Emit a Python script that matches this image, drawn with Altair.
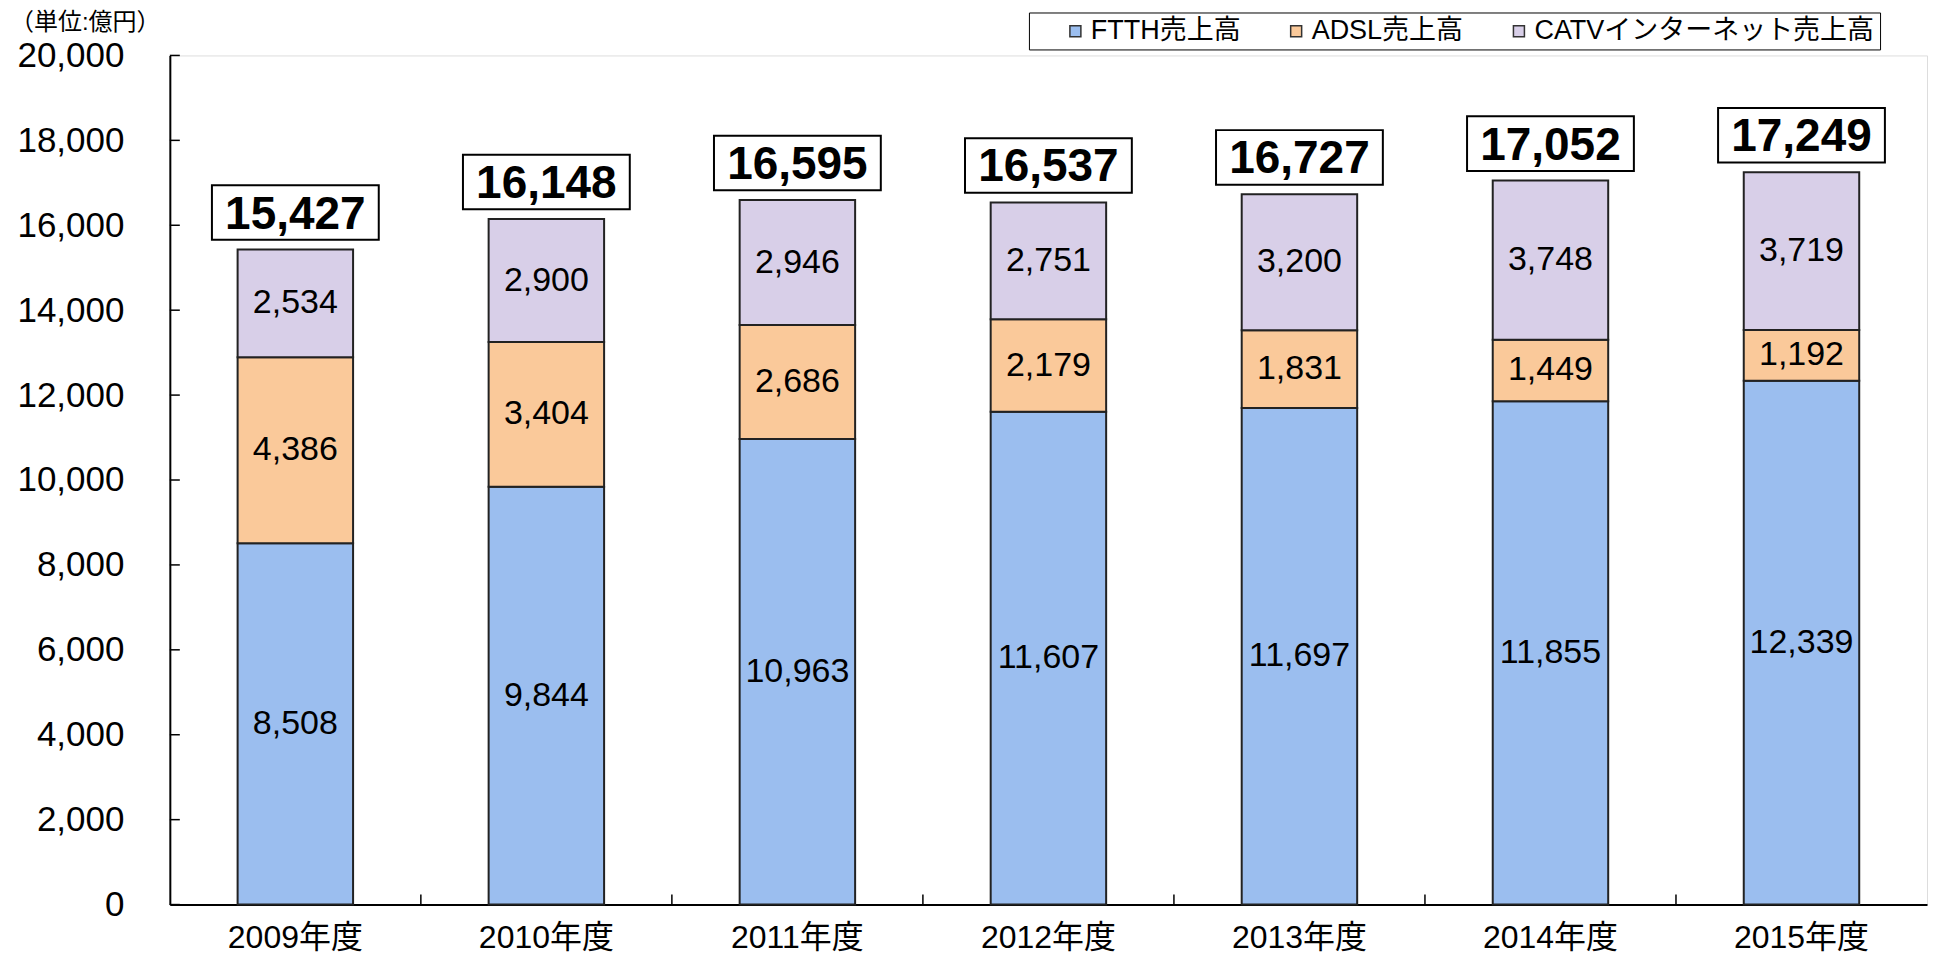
import altair as alt
import pandas as pd

years = ["2009年度", "2010年度", "2011年度", "2012年度", "2013年度", "2014年度", "2015年度"]
series = ["FTTH売上高", "ADSL売上高", "CATVインターネット売上高"]
ftth = [8508, 9844, 10963, 11607, 11697, 11855, 12339]
adsl = [4386, 3404, 2686, 2179, 1831, 1449, 1192]
catv = [2534, 2900, 2946, 2751, 3200, 3748, 3719]
totals = [15427, 16148, 16595, 16537, 16727, 17052, 17249]
y_ticks = [0, 2000, 4000, 6000, 8000, 10000, 12000, 14000, 16000, 18000, 20000]
colors = ["#9BBEEF", "#FAC99A", "#D8CFE8"]
unit_label = ["（単位:億円）"]

FONT = "Liberation Sans, 'Noto Sans CJK JP', sans-serif"
W, H = 1759, 850

rows = []
for i, y in enumerate(years):
    for k, (name, vals) in enumerate(zip(series, [ftth, adsl, catv])):
        rows.append({"year": y, "series": name, "value": vals[i], "order": k})
df = pd.DataFrame(rows)
tot_df = pd.DataFrame({"year": years, "total": totals,
                       "top": [a + b + c for a, b, c in zip(ftth, adsl, catv)]})
ytick_df = pd.DataFrame({"t": y_ticks})
xtick_df = pd.DataFrame({"year": years[1:]})
unit_df = pd.DataFrame({"label": unit_label})

xscale = alt.Scale(domain=years, paddingInner=0, paddingOuter=0)
yscale = alt.Scale(domain=[0, 20000], nice=False)

xaxis = alt.Axis(title=None, ticks=False, labelFontSize=32, labelPadding=18,
                 labelColor="black", domainColor="black", domainWidth=2,
                 labelAngle=0, labelFont=FONT)
yaxis = alt.Axis(title=None, values=y_ticks, format=",d", ticks=False,
                 labelFontSize=35, labelPadding=46, labelColor="black",
                 domainColor="black", domainWidth=2, grid=False, labelFont=FONT)


def X(**kw):
    return alt.X("year:N", scale=xscale, sort=years, axis=xaxis, **kw)


def Y(field):
    return alt.Y(field, scale=yscale, axis=yaxis)


base = alt.Chart(df).transform_stack(
    stack="value", groupby=["year"], sort=[alt.SortField("order")], as_=["v0", "v1"]
).transform_calculate(mid="(datum.v0 + datum.v1) / 2")

bars = base.mark_bar(width=alt.RelativeBandSize(0.46), stroke="#222", strokeWidth=2).encode(
    x=X(),
    y=Y("v0:Q"),
    y2="v1:Q",
    color=alt.Color("series:N", scale=alt.Scale(domain=series, range=colors),
                    legend=alt.Legend(title=None, orient="none", legendX=860, legendY=-43,
                                      direction="horizontal", strokeColor="black",
                                      fillColor="white", padding=5, labelFontSize=27,
                                      labelFont=FONT, labelColor="black", labelLimit=0,
                                      symbolType="square", symbolSize=121,
                                      symbolStrokeColor="#333", symbolStrokeWidth=1.5,
                                      symbolOffset=28, columnPadding=14, labelOffset=2)),
)

seg_text = base.mark_text(fontSize=34, font=FONT, color="black", baseline="middle").encode(
    x=X(),
    y=Y("mid:Q"),
    text=alt.Text("value:Q", format=","),
)

box_shape = "M-1,-0.327L1,-0.327L1,0.327L-1,0.327Z"
boxes = alt.Chart(tot_df).mark_point(shape=box_shape, size=167 * 167, filled=True,
                                     fill="white", stroke="black", strokeWidth=2,
                                     opacity=1, yOffset=-37).encode(
    x=X(),
    y=Y("top:Q"),
)
tot_text = alt.Chart(tot_df).mark_text(fontSize=46, fontWeight="bold", font=FONT,
                                       color="black", baseline="middle", yOffset=-35).encode(
    x=X(),
    y=Y("top:Q"),
    text=alt.Text("total:Q", format=","),
)

yticks = alt.Chart(ytick_df).mark_rule(color="black", strokeWidth=1.5).encode(
    y=Y("t:Q"), x=alt.value(0), x2=alt.value(10)
)
xticks = alt.Chart(xtick_df).mark_rule(color="black", strokeWidth=1.5).encode(
    x=X(bandPosition=0),
    y=alt.value(H - 10), y2=alt.value(H),
)

unit = alt.Chart(unit_df).mark_text(fontSize=24, font=FONT, color="black", align="left",
                                    baseline="middle").encode(
    text="label:N", x=alt.value(-160), y=alt.value(-32)
)

chart = alt.layer(bars, seg_text, yticks, xticks, boxes, tot_text, unit).properties(
    width=W, height=H,
    autosize=alt.AutoSizeParams(type="none"),
    padding={"left": 162, "top": 47, "right": 2, "bottom": 55},
).configure_view(stroke="#888", strokeWidth=2).configure(background="white")

chart.save("out.html", embed_options={"renderer": "svg", "actions": False})
